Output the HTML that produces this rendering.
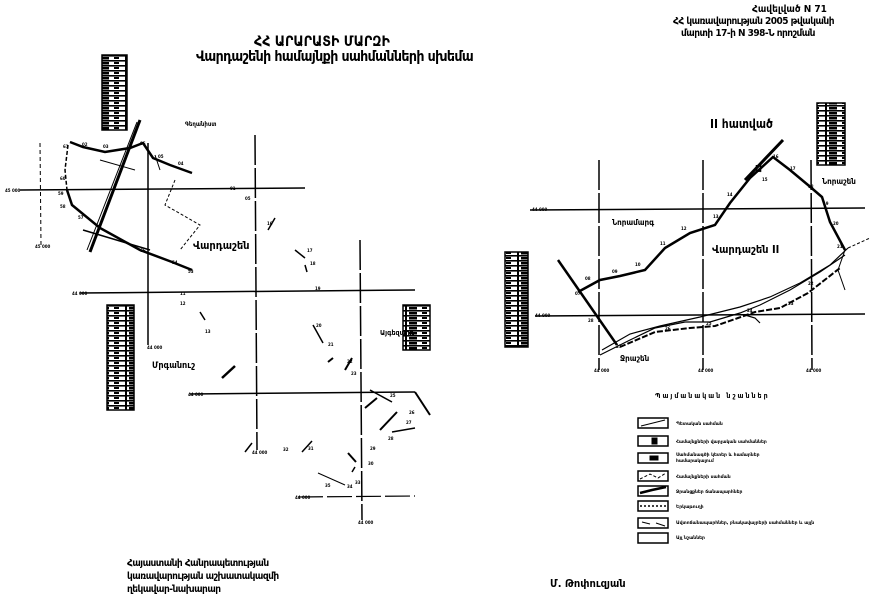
<!DOCTYPE html>
<html><head><meta charset="utf-8"><style>
html,body{margin:0;padding:0;background:#fff;}
body{width:892px;height:612px;position:relative;overflow:hidden;font-family:"DejaVu Sans","Liberation Sans",sans-serif;}
.t{position:absolute;color:#000;font-stretch:condensed;white-space:nowrap;line-height:1;font-weight:bold;}
</style></head><body>
<svg width="892" height="612" style="position:absolute;left:0;top:0" xmlns="http://www.w3.org/2000/svg">
<defs>
<pattern id="tb" width="28" height="5" patternUnits="userSpaceOnUse">
<rect width="28" height="5" fill="#fff"/>
<rect x="0" y="0" width="28" height="1.6" fill="#000"/>
<rect x="2" y="2" width="5" height="2" fill="#000"/>
<rect x="13" y="1" width="2" height="4" fill="#000"/>
<rect x="17" y="2" width="8" height="2.5" fill="#000"/>
</pattern>
</defs>
<g fill="url(#tb)" stroke="#000" stroke-width="1.5">
<rect x="102" y="55" width="25" height="75"/>
<rect x="107" y="305" width="27" height="105"/>
<rect x="403" y="305" width="27" height="45"/>
<rect x="817" y="103" width="28" height="62"/>
<rect x="505" y="252" width="23" height="95"/>
</g>
<g stroke="#000" fill="none">
<line x1="20" y1="190" x2="305" y2="188" stroke-width="1.5"/>
<line x1="80" y1="293" x2="415" y2="290" stroke-width="1.5"/>
<line x1="190" y1="394" x2="415" y2="392" stroke-width="1.5"/>
<line x1="298" y1="497" x2="415" y2="496" stroke-width="1.2" stroke-dasharray="25,4"/>
<line x1="148" y1="143" x2="148" y2="345" stroke-width="1.5"/>
<line x1="255" y1="135" x2="257" y2="450" stroke-width="1.5" stroke-dasharray="30,3"/>
<line x1="360" y1="240" x2="362" y2="520" stroke-width="1.5" stroke-dasharray="30,3"/>
<line x1="40" y1="143" x2="41" y2="245" stroke-width="1" stroke-dasharray="4,3"/>
<polyline points="70,142 83,147 105,152 130,148 143,143 153,158 170,165 192,173" stroke-width="2.5"/>
<polyline points="67,190 72,205 100,228 140,250 172,262 192,270" stroke-width="2.5"/>
<polyline points="68,145 65,170 67,190" stroke-width="1.5" stroke-dasharray="4,2"/>
<polyline points="140,120 90,252" stroke-width="3"/>
<polyline points="137,122 87,250" stroke-width="1"/>
<polyline points="83,230 150,250" stroke-width="1.5"/>
<polyline points="100,160 135,170" stroke-width="1"/>
<polyline points="175,180 165,205 200,225 180,250" stroke-width="1" stroke-dasharray="3,2"/>
<polyline points="155,155 160,170" stroke-width="1"/>
<line x1="268" y1="230" x2="275" y2="218" stroke-width="1.5"/>
<line x1="295" y1="250" x2="305" y2="258" stroke-width="1.5"/>
<line x1="305" y1="265" x2="307" y2="272" stroke-width="1.5"/>
<line x1="200" y1="312" x2="205" y2="320" stroke-width="1.5"/>
<line x1="222" y1="378" x2="235" y2="366" stroke-width="2.5"/>
<line x1="313" y1="325" x2="323" y2="343" stroke-width="1.5"/>
<line x1="333" y1="358" x2="328" y2="362" stroke-width="2"/>
<line x1="345" y1="370" x2="352" y2="358" stroke-width="2"/>
<line x1="370" y1="390" x2="392" y2="402" stroke-width="1.5"/>
<line x1="415" y1="392" x2="430" y2="415" stroke-width="2"/>
<line x1="365" y1="408" x2="377" y2="398" stroke-width="2"/>
<line x1="380" y1="430" x2="397" y2="412" stroke-width="2"/>
<line x1="392" y1="432" x2="415" y2="428" stroke-width="1.5"/>
<line x1="245" y1="452" x2="252" y2="443" stroke-width="1.5"/>
<line x1="302" y1="452" x2="312" y2="441" stroke-width="1.5"/>
<line x1="348" y1="453" x2="356" y2="462" stroke-width="2"/>
<line x1="318" y1="473" x2="345" y2="485" stroke-width="1"/>
<line x1="352" y1="472" x2="355" y2="467" stroke-width="1.5"/>
<line x1="530" y1="210" x2="865" y2="208" stroke-width="1.5"/>
<line x1="535" y1="316" x2="865" y2="314" stroke-width="1.5"/>
<line x1="599" y1="160" x2="599" y2="370" stroke-width="1.5" stroke-dasharray="30,3"/>
<line x1="703" y1="160" x2="703" y2="370" stroke-width="1.5" stroke-dasharray="30,3"/>
<line x1="811" y1="160" x2="812" y2="370" stroke-width="1.5" stroke-dasharray="30,3"/>
<polyline points="578,292 600,280 620,276 645,270 665,248 690,233 715,225 730,203 750,178 773,157 790,170 808,185 822,197 830,222 845,250" stroke-width="2.5"/>
<line x1="745" y1="180" x2="783" y2="140" stroke-width="3"/>
<line x1="558" y1="260" x2="617" y2="345" stroke-width="2.5"/>
<polyline points="600,355 630,340 655,328 685,322 710,322 740,313 760,305 790,290 820,272 845,255" stroke-width="1.2"/>
<polyline points="602,350 630,334 660,326 700,317 740,307 770,297 800,283 830,265 848,248" stroke-width="1.2"/>
<polyline points="620,347 655,332 690,328 715,326 738,318 755,312 780,308 808,293 840,268" stroke-width="2" stroke-dasharray="6,2"/>
<polyline points="745,315 755,318 760,323" stroke-width="1.2"/>
<polyline points="845,250 838,270 845,290" stroke-width="1"/>
<polyline points="848,248 870,238" stroke-width="1" stroke-dasharray="3,2"/>
<g stroke-width="1.5">
<rect x="638" y="418" width="30" height="10"/>
<rect x="638" y="436" width="30" height="10"/>
<rect x="638" y="453" width="30" height="10"/>
<rect x="638" y="471" width="30" height="10"/>
<rect x="638" y="486" width="30" height="10"/>
<rect x="638" y="501" width="30" height="10"/>
<rect x="638" y="518" width="30" height="10"/>
<rect x="638" y="533" width="30" height="10"/>
</g>
<line x1="641" y1="426" x2="665" y2="420" stroke-width="1"/>
<rect x="652" y="438" width="5" height="6" fill="#000"/>
<rect x="650" y="456" width="8" height="4" fill="#000"/>
<polyline points="640,479 650,474 658,478 666,473" stroke-width="1" stroke-dasharray="3,2"/>
<polyline points="640,493 652,490 666,487" stroke-width="2.5"/>
<line x1="640" y1="506" x2="666" y2="506" stroke-width="1.5" stroke-dasharray="2,2"/>
<line x1="642" y1="522" x2="650" y2="524" stroke-width="1"/><line x1="656" y1="523" x2="665" y2="526" stroke-width="1"/>
</g>
<g font-family="DejaVu Sans, sans-serif" font-size="4.5" font-weight="bold" fill="#000">
<text x="676" y="425">Պետական սահման</text>
<text x="676" y="443">Համայնքների վարչական սահմաններ</text>
<text x="676" y="456">Սահմանագծի կետեր և համարներ</text>
<text x="676" y="462">համարակալում</text>
<text x="676" y="478">Համայնքների սահման</text>
<text x="676" y="493">Ջրանցքներ ճանապարհներ</text>
<text x="676" y="508">Երկաթուղի</text>
<text x="676" y="524">Ավտոճանապարհներ, բնակավայրերի սահմաններ և այլն</text>
<text x="676" y="539">Այլ նշաններ</text>
</g>
<g font-family="DejaVu Sans, sans-serif" font-size="4" font-weight="bold" fill="#000">
<text x="5" y="192">45 000</text><text x="35" y="248">45 000</text><text x="72" y="295">44 000</text>
<text x="147" y="349">44 000</text><text x="188" y="396">44 000</text><text x="252" y="454">44 000</text>
<text x="295" y="499">44 000</text><text x="358" y="524">44 000</text>
<text x="532" y="211">44 000</text><text x="535" y="317">44 000</text>
<text x="594" y="372">44 000</text><text x="698" y="372">44 000</text><text x="806" y="372">44 000</text>
<text x="63" y="148">61</text><text x="82" y="146">02</text><text x="103" y="148">03</text><text x="140" y="145">06</text>
<text x="158" y="158">05</text><text x="178" y="165">04</text><text x="60" y="180">60</text><text x="58" y="195">59</text>
<text x="60" y="208">58</text><text x="78" y="219">57</text><text x="140" y="252">66</text><text x="172" y="264">54</text>
<text x="188" y="273">53</text><text x="230" y="190">01</text><text x="245" y="200">05</text>
<text x="180" y="295">11</text><text x="180" y="305">12</text><text x="205" y="333">13</text>
<text x="267" y="225">16</text><text x="307" y="252">17</text><text x="310" y="265">18</text><text x="315" y="290">19</text>
<text x="316" y="327">20</text><text x="328" y="346">21</text><text x="347" y="363">22</text><text x="351" y="375">23</text>
<text x="390" y="397">25</text><text x="409" y="414">26</text><text x="406" y="424">27</text><text x="388" y="440">28</text>
<text x="370" y="450">29</text><text x="368" y="465">30</text><text x="308" y="450">31</text><text x="283" y="451">32</text>
<text x="355" y="484">33</text><text x="347" y="488">34</text><text x="325" y="487">35</text>
<text x="575" y="295">07</text><text x="585" y="280">08</text><text x="612" y="273">09</text><text x="635" y="266">10</text>
<text x="660" y="245">11</text><text x="681" y="230">12</text><text x="713" y="218">13</text><text x="727" y="196">14</text>
<text x="762" y="181">15</text><text x="773" y="158">16</text><text x="790" y="170">17</text><text x="808" y="188">18</text>
<text x="823" y="205">19</text><text x="833" y="225">20</text><text x="837" y="248">21</text><text x="808" y="285">22</text>
<text x="788" y="305">23</text><text x="747" y="312">24</text><text x="706" y="325">25</text><text x="665" y="330">26</text>
<text x="616" y="348">27</text><text x="588" y="322">28</text>
</g>
</svg>
<div class="t" style="left:254px;top:35px;font-size:14px;">ՀՀ ԱՐԱՐԱՏԻ ՄԱՐԶԻ</div>
<div class="t" style="left:196px;top:50px;font-size:14px;letter-spacing:-0.6px;">Վարդաշենի համայնքի սահմանների սխեմա</div>
<div class="t" style="left:752px;top:5px;font-size:10px;">Հավելված N 71</div>
<div class="t" style="left:673px;top:17px;font-size:10px;letter-spacing:-0.5px;">ՀՀ կառավարության 2005 թվականի</div>
<div class="t" style="left:681px;top:29px;font-size:10px;letter-spacing:-0.5px;">մարտի 17-ի N 398-Ն որոշման</div>
<div class="t" style="left:185px;top:122px;font-size:6px;">Գեղանիստ</div>
<div class="t" style="left:193px;top:240px;font-size:11px;">Վարդաշեն</div>
<div class="t" style="left:152px;top:362px;font-size:9px;">Մրգանուշ</div>
<div class="t" style="left:380px;top:330px;font-size:7px;">Այգեզարդ</div>
<div class="t" style="left:710px;top:118px;font-size:12px;">II հատված</div>
<div class="t" style="left:612px;top:219px;font-size:8px;">Նորամարգ</div>
<div class="t" style="left:712px;top:244px;font-size:11px;">Վարդաշեն II</div>
<div class="t" style="left:822px;top:178px;font-size:8px;">Նորաշեն</div>
<div class="t" style="left:620px;top:355px;font-size:8px;">Ջրաշեն</div>
<div class="t" style="left:755px;top:165px;font-size:10px;">Ա</div>
<div class="t" style="left:655px;top:393px;font-size:7px;letter-spacing:2px;">Պայմանական նշաններ</div>
<div class="t" style="left:127px;top:557px;font-size:10px;line-height:13px;letter-spacing:-0.5px;">Հայաստանի Հանրապետության<br>կառավարության աշխատակազմի<br>ղեկավար-նախարար</div>
<div class="t" style="left:550px;top:578px;font-size:11px;">Մ. Թոփուզյան</div>
</body></html>
